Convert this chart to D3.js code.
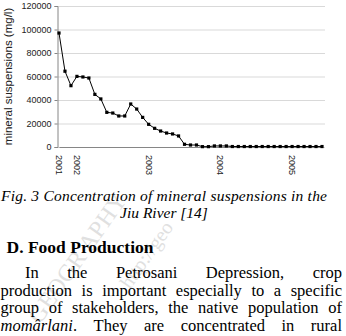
<!DOCTYPE html>
<html>
<head>
<meta charset="utf-8">
<script src="https://cdn.jsdelivr.net/npm/d3@7"></script>
<style>
  body { margin: 0; background: #fff; }
  svg { display: block; }
</style>
</head>
<body>
<svg width="346" height="336"></svg>
<script>
// mineral suspensions in the Jiu River, one value per sample (mg/l)
const values = [
  97000, 64500, 52200, 60100, 59600, 58700, 44800, 40900, 29500, 28900,
  26400, 26400, 36600, 32300, 25200, 19300, 15900, 13600, 11900, 11100,
  9400, 2300, 1700, 1700, 300, 300, 900, 900, 900, 400,
  400, 400, 400, 400, 400, 400, 400, 400, 400, 400,
  400, 400, 400, 400, 400
];
// year labels and the sample they sit under
const yearLabels = ["2001", "2002", "2003", "2004", "2005"];
const yearIndex = [0, 3, 15, 27, 39];
const yTicks = [0, 20000, 40000, 60000, 80000, 100000, 120000];

const sans = "'Liberation Sans', Arial, sans-serif";
const serif = "'Liberation Serif', 'Times New Roman', serif";

const svg = d3.select("svg");
const margin = {top: 6, left: 57.5, bottom: 189, right: 21};
const width = +svg.attr("width");
const height = +svg.attr("height");
const innerwidth = width - margin.left - margin.right;
const innerheight = height - margin.top - margin.bottom;

const xScale = d3.scaleLinear()
    .domain([0, values.length - 1])
    .range([1.5, innerwidth - 3]);

const yScale = d3.scaleLinear()
    .domain([0, 120000])
    .range([innerheight, 0]);

const g = svg.append("g")
    .attr("transform", `translate(${margin.left}, ${margin.top})`);

// gridlines
g.append("g")
    .call(d3.axisLeft(yScale).tickValues(yTicks).tickSize(-innerwidth).tickFormat(""))
    .call(s => s.select(".domain").remove())
    .selectAll(".tick line")
        .attr("stroke", "#d9d9d9");

// y axis
const yAxisG = g.append("g")
    .call(d3.axisLeft(yScale).tickValues(yTicks).tickSize(3).tickPadding(3).tickFormat(d3.format("d")));
yAxisG.select(".domain").attr("stroke", "#868686");
yAxisG.selectAll(".tick line").attr("stroke", "#868686");
yAxisG.selectAll("text")
    .attr("font-family", sans)
    .attr("font-size", 9)
    .attr("fill", "#222");

// x axis
const xAxisG = g.append("g")
    .attr("transform", `translate(0, ${innerheight})`)
    .call(d3.axisBottom(xScale).tickValues(yearIndex).tickSize(0)
        .tickFormat((d, i) => yearLabels[i]));
xAxisG.select(".domain").attr("stroke", "#868686");
xAxisG.selectAll("text")
    .attr("font-family", sans)
    .attr("font-size", 9)
    .attr("fill", "#222")
    .attr("text-anchor", "start")
    .attr("dy", null)
    .attr("y", 0)
    .attr("transform", "translate(-3.5, 8) rotate(90)");

// y title
svg.append("text")
    .attr("transform", `translate(12, ${margin.top + innerheight / 2}) rotate(-90)`)
    .attr("text-anchor", "middle")
    .attr("font-family", sans)
    .attr("font-size", 11.5)
    .attr("fill", "#222")
    .text("mineral suspensions (mg/l)");

// line + markers
const line = d3.line()
    .x((d, i) => xScale(i))
    .y(d => yScale(d));

g.append("path")
    .datum(values)
    .attr("fill", "none")
    .attr("stroke", "#000")
    .attr("stroke-width", 1)
    .attr("d", line);

g.selectAll("rect.pt").data(values)
    .enter().append("rect")
        .attr("class", "pt")
        .attr("x", (d, i) => xScale(i) - 1.6)
        .attr("y", d => yScale(d) - 1.6)
        .attr("width", 3.2)
        .attr("height", 3.2)
        .attr("fill", "#000");

// faint watermark (behind the page text)
const wm = svg.append("g")
    .attr("fill", "#bbb")
    .attr("opacity", 0.45)
    .attr("font-family", serif);
wm.append("text")
    .attr("transform", "translate(40, 325) rotate(-55)")
    .attr("font-size", 24)
    .text("GEOGR APHY");
wm.append("text")
    .attr("transform", "translate(130, 290) rotate(-55)")
    .attr("font-size", 20)
    .text("http://geo");

// page text below the figure
svg.append("text")
    .attr("x", 164).attr("y", 201)
    .attr("text-anchor", "middle")
    .attr("font-family", serif).attr("font-style", "italic").attr("font-size", 15.5)
    .attr("textLength", 326).attr("lengthAdjust", "spacing")
    .text("Fig. 3 Concentration of mineral suspensions in the");

svg.append("text")
    .attr("x", 164).attr("y", 217.5)
    .attr("text-anchor", "middle")
    .attr("font-family", serif).attr("font-style", "italic").attr("font-size", 15.5)
    .text("Jiu River [14]");

svg.append("text")
    .attr("x", 6.5).attr("y", 252.5)
    .attr("font-family", serif).attr("font-weight", "bold").attr("font-size", 17.5)
    .text("D. Food Production");

// justified paragraph: each word placed, gaps spread to fill the line
const paraLines = [
  {x0: 25, y: 278, words: ["In", "the", "Petrosani", "Depression,", "crop"]},
  {x0: 0.5, y: 295.5, words: ["production", "is", "important", "especially", "to", "a", "specific"]},
  {x0: 0.5, y: 313, words: ["group", "of", "stakeholders,", "the", "native", "population", "of"]},
  {x0: 0.5, y: 330.5, words: ["*momârlani*.", "They", "are", "concentrated", "in", "rural"]}
];
const x1 = 342;

paraLines.forEach(l => {
  const nodes = l.words.map(w => {
    const t = svg.append("text")
        .attr("y", l.y)
        .attr("font-family", serif)
        .attr("font-size", 16.5);
    const m = w.match(/^\*(.+)\*(.*)$/);
    if (m) {
      t.append("tspan").attr("font-style", "italic").text(m[1]);
      t.append("tspan").text(m[2]);
    } else {
      t.text(w);
    }
    return t;
  });
  const widths = nodes.map(n => n.node().getComputedTextLength());
  const gap = (x1 - l.x0 - d3.sum(widths)) / (nodes.length - 1);
  let x = l.x0;
  nodes.forEach((n, i) => {
    n.attr("x", x);
    x += widths[i] + gap;
  });
});
</script>
</body>
</html>
